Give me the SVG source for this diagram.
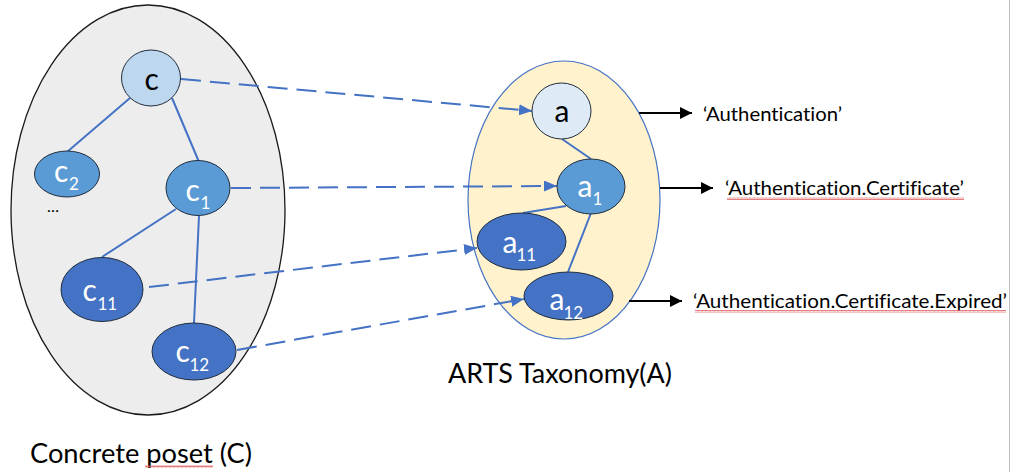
<svg xmlns="http://www.w3.org/2000/svg" width="1011" height="472" viewBox="0 0 1011 472">
  <defs>
    <style>
      .set-c { fill: #ededed; stroke: #1a1a1a; stroke-width: 1.3; }
      .set-a { fill: #fff2cc; stroke: #4472c4; stroke-width: 1.2; }
      .node { stroke: #1f2d3d; stroke-width: 1; }
      .top { fill: #bdd7ee; }
      .top-a { fill: #deebf7; }
      .mid { fill: #5b9bd5; }
      .leaf { fill: #4472c4; }
      .edge { stroke: #4472c4; stroke-width: 2; fill: none; }
      .map { stroke: #4472c4; stroke-width: 2; fill: none; stroke-dasharray: 20 9; marker-end: url(#blue-head); }
      .name { stroke: #000; stroke-width: 2; fill: none; marker-end: url(#black-head); }
      text { font-variant-ligatures: none; font-feature-settings: "liga" 0, "clig" 0; }
      .lbl { font-family: Lato, "Open Sans", "Liberation Sans", sans-serif; font-size: 30px; fill: #fff; }
      .lbl.dark { fill: #000; }
      .sub { font-size: 17px; }
      .cap { font-family: Lato, "Open Sans", "Liberation Sans", sans-serif; fill: #000; }
      .squiggle { fill: url(#wave); }
    </style>
    <marker id="blue-head" markerUnits="userSpaceOnUse" markerWidth="14" markerHeight="12" refX="13" refY="5.5" orient="auto">
      <path d="M0,0 L13,5.5 L0,11 Z" fill="#4472c4"/>
    </marker>
    <marker id="black-head" markerUnits="userSpaceOnUse" markerWidth="14" markerHeight="13" refX="12" refY="6" orient="auto">
      <path d="M0,0 L12,6 L0,12 Z" fill="#000"/>
    </marker>
    <pattern id="wave" patternUnits="userSpaceOnUse" width="4" height="3">
      <path d="M0,2.5 L1,0.5 L2,2.5 L3,0.5 L4,2.5" stroke="#e06060" stroke-width="0.8" fill="none"/>
    </pattern>
  </defs>

  <rect width="1011" height="472" fill="#fff"/>
  <!-- page edge -->
  <line x1="1009.5" y1="0" x2="1009.5" y2="472" stroke="#c0c0c0" stroke-width="1"/>

  <!-- the two sets -->
  <g id="set-concrete">
    <ellipse class="set-c" cx="148" cy="210" rx="137" ry="205"/>
    <text class="cap" x="30" y="463" font-size="26" textLength="222" lengthAdjust="spacingAndGlyphs">Concrete poset (C)</text>
    <rect class="squiggle" x="145" y="465" width="68" height="3"/>
  </g>
  <g id="set-arts">
    <ellipse class="set-a" cx="564" cy="200" rx="96" ry="139"/>
    <text class="cap" x="448" y="383" font-size="27" textLength="224" lengthAdjust="spacingAndGlyphs">ARTS Taxonomy(A)</text>
  </g>

  <!-- connectors -->
  <g id="connectors">
    <line class="edge" x1="130" y1="98" x2="67" y2="152"/>
    <line class="edge" x1="172" y1="98" x2="199" y2="162"/>
    <line class="edge" x1="176" y1="209" x2="102" y2="257"/>
    <line class="edge" x1="199" y1="216" x2="194" y2="323"/>
    <line class="edge" x1="562" y1="139" x2="591" y2="159"/>
    <line class="edge" x1="566" y1="206" x2="523" y2="213"/>
    <line class="edge" x1="591" y1="213" x2="568" y2="272"/>

    <line class="map" x1="181" y1="79" x2="532" y2="111"/>
    <line class="map" x1="231" y1="188" x2="557" y2="186"/>
    <line class="map" x1="149" y1="287" x2="477" y2="248"/>
    <line class="map" x1="237" y1="350" x2="524" y2="299"/>

    <line class="name" x1="639" y1="113" x2="692" y2="113"/>
    <line class="name" x1="660" y1="188" x2="713" y2="188"/>
    <line class="name" x1="629" y1="301" x2="682" y2="301"/>
  </g>

  <!-- concrete poset nodes -->
  <g id="node-c">
    <ellipse class="node top" cx="151" cy="78" rx="29.5" ry="28"/>
    <text class="lbl dark" x="144.5" y="90">c</text>
  </g>
  <g id="node-c2">
    <ellipse class="node mid" cx="67" cy="174" rx="32.5" ry="23"/>
    <text class="lbl" x="54" y="182">c<tspan class="sub" x="69" y="190">2</tspan></text>
  </g>
  <g id="node-c1">
    <ellipse class="node mid" cx="198" cy="188" rx="32" ry="27.5"/>
    <text class="lbl" x="185.5" y="200.5">c<tspan class="sub" x="200.5" y="208.5">1</tspan></text>
  </g>
  <g id="node-c11">
    <ellipse class="node leaf" cx="102" cy="289.5" rx="41" ry="32"/>
    <text class="lbl" x="82.5" y="301">c<tspan class="sub" x="97.5" y="309.5">11</tspan></text>
  </g>
  <g id="node-c12">
    <ellipse class="node leaf" cx="194" cy="351.5" rx="42" ry="28.5"/>
    <text class="lbl" x="175.5" y="362">c<tspan class="sub" x="189.5" y="371">12</tspan></text>
  </g>
  <g id="ellipsis">
    <text class="cap" x="47" y="212" font-size="16">…</text>
  </g>

  <!-- taxonomy nodes -->
  <g id="node-a">
    <ellipse class="node top-a" cx="561.5" cy="111" rx="29.5" ry="28"/>
    <text class="lbl dark" x="554.5" y="122">a</text>
  </g>
  <g id="node-a1">
    <ellipse class="node mid" cx="591" cy="186.5" rx="34" ry="27.5"/>
    <text class="lbl" x="577.5" y="197">a<tspan class="sub" x="592.5" y="205">1</tspan></text>
  </g>
  <g id="node-a11">
    <ellipse class="node leaf" cx="521.5" cy="241.5" rx="44.5" ry="28.5"/>
    <text class="lbl" x="502.5" y="253">a<tspan class="sub" x="516.5" y="261">11</tspan></text>
  </g>
  <g id="node-a12">
    <ellipse class="node leaf" cx="568.5" cy="296" rx="44.5" ry="24"/>
    <text class="lbl" x="549.5" y="310">a<tspan class="sub" x="563.5" y="319">12</tspan></text>
  </g>

  <!-- category names -->
  <g id="name-1">
    <text class="cap" x="703" y="121" font-size="20" textLength="139" lengthAdjust="spacingAndGlyphs">‘Authentication’</text>
  </g>
  <g id="name-2">
    <text class="cap" x="725" y="195" font-size="20" textLength="239" lengthAdjust="spacingAndGlyphs">‘Authentication.Certificate’</text>
    <rect class="squiggle" x="727" y="197" width="237" height="3"/>
  </g>
  <g id="name-3">
    <text class="cap" x="693" y="308" font-size="20" textLength="314" lengthAdjust="spacingAndGlyphs">‘Authentication.Certificate.Expired’</text>
    <rect class="squiggle" x="695" y="310" width="311" height="3"/>
  </g>
</svg>
